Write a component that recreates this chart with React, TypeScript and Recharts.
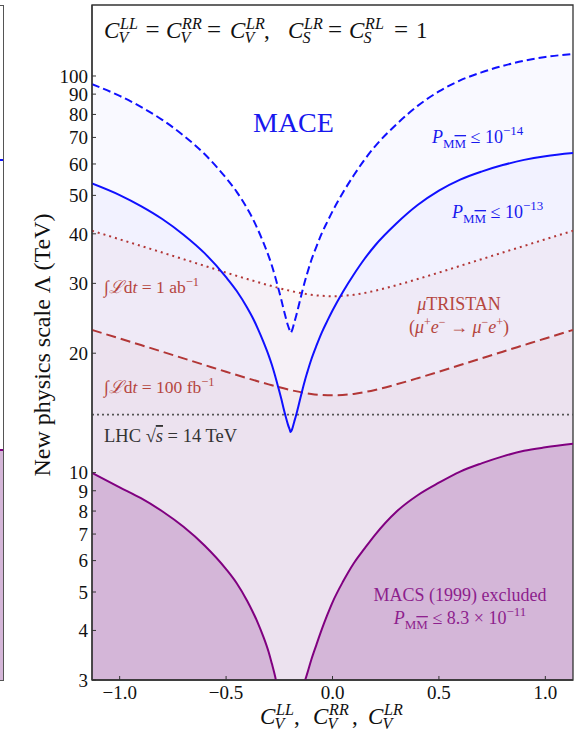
import React from "react";
import {
  ComposedChart,
  Line,
  Area,
  XAxis,
  YAxis,
  ReferenceLine,
  ReferenceArea,
} from "recharts";

const W = 582;
const H = 738;
const SERIF = "'Liberation Serif', 'Times New Roman', serif";

// ---- data ----
const couplingC = [
  -1.13, -1.0, -0.9, -0.8, -0.7, -0.6, -0.5, -0.45, -0.4, -0.375, -0.35, -0.325,
  -0.3, -0.285, -0.27, -0.255, -0.24, -0.23, -0.22, -0.21, -0.2, -0.197, -0.19,
  -0.18, -0.17, -0.16, -0.15, -0.14, -0.13, -0.12, -0.1, -0.075, -0.05, -0.025,
  0, 0.05, 0.1, 0.15, 0.2, 0.3, 0.4, 0.5, 0.6, 0.7, 0.8, 0.9, 1.0, 1.13,
];
// MACE, P <= 1e-13 (solid)
const mace13 = [
  53.6, 50.1, 47.0, 43.6, 39.8, 35.7, 31.1, 28.7, 26.0, 24.58, 23.01, 21.4,
  19.76, 18.71, 17.58, 16.42, 15.3, 14.53, 13.85, 13.25, 12.79, 12.65, 12.85,
  13.42, 14.02, 14.73, 15.48, 16.28, 17.05, 17.79, 19.26, 20.92, 22.57, 24.09,
  25.63, 28.63, 31.59, 34.56, 37.38, 42.46, 47.27, 51.41, 54.81, 57.41, 59.62,
  61.45, 62.78, 63.92,
];
// MACE, P <= 1e-14 (dashed)
const mace14 = [
  95.32, 89.09, 83.58, 77.53, 70.78, 63.48, 55.3, 51.04, 46.24, 43.71, 40.92,
  38.06, 35.14, 33.27, 31.26, 29.2, 27.21, 25.84, 24.63, 23.56, 22.74, 22.5,
  22.85, 23.86, 24.93, 26.19, 27.53, 28.95, 30.32, 31.64, 34.25, 37.2, 40.14,
  42.84, 45.58, 50.91, 56.18, 61.46, 66.47, 75.51, 84.06, 91.42, 97.47, 102.09,
  106.02, 109.28, 111.64, 113.67,
];
// MACS (1999) excluded, P <= 8.3e-11
const macs = [
  9.99, 9.18, 8.62, 7.99, 7.3, 6.54, 5.71, 5.26, 4.74, 4.46, 4.17, 3.86, 3.53,
  3.3, 3.07, 2.8, 2.62, 2.52, 2.44, 2.39, 2.36, 2.355, 2.37, 2.43, 2.52, 2.63,
  2.76, 2.87, 2.98, 3.1, 3.37, 3.69, 4.03, 4.37, 4.71, 5.32, 5.91, 6.43, 6.97,
  7.97, 8.77, 9.43, 10.06, 10.55, 10.99, 11.35, 11.58, 11.82,
];
// muTRISTAN
const tristanC = [
  -1.13, -1.0, -0.9, -0.8, -0.7, -0.6, -0.5, -0.4, -0.3, -0.2, -0.1, 0, 0.1,
  0.2, 0.3, 0.4, 0.5, 0.6, 0.7, 0.8, 0.9, 1.0, 1.13,
];
const tristan1ab = [
  40.71, 38.75, 37.29, 35.89, 34.52, 33.21, 31.94, 30.76, 29.68, 28.74, 28.08,
  27.85, 28.08, 28.74, 29.68, 30.76, 31.94, 33.21, 34.52, 35.89, 37.29, 38.75,
  40.71,
];
const tristan100fb = [
  22.89, 21.79, 20.97, 20.18, 19.41, 18.67, 17.96, 17.3, 16.69, 16.16, 15.79,
  15.66, 15.79, 16.16, 16.69, 17.3, 17.96, 18.67, 19.41, 20.18, 20.97, 21.79,
  22.89,
];
const lhcLimit = 14;

const xTicks = [-1, -0.5, 0, 0.5, 1];
const yTicks = [3, 4, 5, 6, 7, 8, 9, 10, 20, 30, 40, 50, 60, 70, 80, 90, 100];
const xDomain: [number, number] = [-1.13, 1.13];
const yDomain: [number, number] = [3, 151];

const rows = couplingC.map((c, i) => {
  const j = tristanC.indexOf(c);
  return {
    c,
    mace13: mace13[i],
    mace14: mace14[i],
    macs: macs[i],
    t1ab: j >= 0 ? tristan1ab[j] : null,
    t100fb: j >= 0 ? tristan100fb[j] : null,
  };
});

const fmtX = (v: number) =>
  v === 0 ? "0.0" : (v < 0 ? "\u2212" : "") + Math.abs(v).toFixed(1);

const BLUE = "#1010ff";
const BLUE_TXT = "#1818ee";
const RED = "#b23636";
const RED_TXT = "#b5463e";
const PURPLE = "#800080";
const PURPLE_TXT = "#8d1e8d";

function MathC({
  x,
  y,
  size,
  sup,
  sub,
}: {
  x: number;
  y: number;
  size: number;
  sup: string;
  sub: string;
}) {
  const s = size * 0.7;
  return (
    <g fontFamily={SERIF} fill="#111">
      <text x={x} y={y} fontSize={size} fontStyle="italic">
        C
      </text>
      <text x={x + size * 0.7} y={y - size * 0.4} fontSize={s} fontStyle="italic">
        {sup}
      </text>
      <text x={x + size * 0.63} y={y + size * 0.23} fontSize={s} fontStyle="italic">
        {sub}
      </text>
    </g>
  );
}

function Eq({ x, y, size }: { x: number; y: number; size: number }) {
  return (
    <text x={x} y={y} fontSize={size} textAnchor="middle" fontFamily={SERIF} fill="#111">
      =
    </text>
  );
}

function PLabel({
  x,
  y,
  size,
  color,
  rhs,
  exp,
  anchor,
}: {
  x: number;
  y: number;
  size: number;
  color: string;
  rhs: string;
  exp: string;
  anchor?: string;
}) {
  const s = size * 0.72;
  return (
    <text x={x} y={y} fontSize={size} fill={color} fontFamily={SERIF} textAnchor={anchor || "start"}>
      <tspan fontStyle="italic">P</tspan>
      <tspan fontSize={s} dy={size * 0.28}>
        M
      </tspan>
      <tspan fontSize={s} style={{ textDecoration: "overline" }}>
        M
      </tspan>
      <tspan dy={-size * 0.28}>{" \u2264 " + rhs}</tspan>
      <tspan fontSize={s} dy={-size * 0.42}>
        {exp}
      </tspan>
    </text>
  );
}

function Overlay() {
  return (
    <svg
      width={W}
      height={H}
      style={{ position: "absolute", left: 0, top: 0, pointerEvents: "none" }}
    >
      {/* title */}
      <MathC x={104} y={38} size={23} sup="LL" sub="V" />
      <Eq x={152.5} y={38} size={25} />
      <MathC x={166} y={38} size={23} sup="RR" sub="V" />
      <Eq x={214} y={38} size={25} />
      <MathC x={230} y={38} size={23} sup="LR" sub="V" />
      <text x={264} y={38} fontSize={23} fontFamily={SERIF} fill="#111">
        ,
      </text>
      <MathC x={288} y={38} size={23} sup="LR" sub="S" />
      <Eq x={335} y={38} size={25} />
      <MathC x={349} y={38} size={23} sup="RL" sub="S" />
      <Eq x={401} y={38} size={25} />
      <text x={416} y={38} fontSize={23} fontFamily={SERIF} fill="#111">
        1
      </text>

      {/* x axis label */}
      <MathC x={260} y={724} size={23} sup="LL" sub="V" />
      <text x={294} y={724} fontSize={23} fontFamily={SERIF} fill="#111">
        ,
      </text>
      <MathC x={313} y={724} size={23} sup="RR" sub="V" />
      <text x={352} y={724} fontSize={23} fontFamily={SERIF} fill="#111">
        ,
      </text>
      <MathC x={368} y={724} size={23} sup="LR" sub="V" />

      {/* y axis label */}
      <text
        transform="translate(50,345) rotate(-90)"
        textAnchor="middle"
        fontSize={24}
        fontFamily={SERIF}
        fill="#111"
      >
        New physics scale {"\u039B"} (TeV)
      </text>

      {/* MACE */}
      <text x={253} y={132} fontSize={28} fontFamily={SERIF} fill={BLUE_TXT}>
        MACE
      </text>
      <PLabel x={432} y={143} size={18} color={BLUE_TXT} rhs="10" exp={"\u221214"} />
      <PLabel x={452} y={218} size={18} color={BLUE_TXT} rhs="10" exp={"\u221213"} />

      {/* muTRISTAN luminosity labels */}
      <text x={104} y={293} fontSize={17.5} fontFamily={SERIF} fill={RED_TXT}>
        <tspan>{"\u222B"}</tspan>
        <tspan fontStyle="italic">{"\u2112"}</tspan>
        <tspan>d</tspan>
        <tspan fontStyle="italic">t</tspan>
        <tspan>{" = 1 ab"}</tspan>
        <tspan fontSize={12.5} dy={-7}>
          {"\u22121"}
        </tspan>
      </text>
      <text x={104} y={393} fontSize={17.5} fontFamily={SERIF} fill={RED_TXT}>
        <tspan>{"\u222B"}</tspan>
        <tspan fontStyle="italic">{"\u2112"}</tspan>
        <tspan>d</tspan>
        <tspan fontStyle="italic">t</tspan>
        <tspan>{" = 100 fb"}</tspan>
        <tspan fontSize={12.5} dy={-7}>
          {"\u22121"}
        </tspan>
      </text>
      <text x={459} y={310} fontSize={18} fontFamily={SERIF} fill={RED_TXT} textAnchor="middle">
        <tspan fontStyle="italic">{"\u03BC"}</tspan>
        <tspan>TRISTAN</tspan>
      </text>
      <text x={459} y={333} fontSize={18} fontFamily={SERIF} fill={RED_TXT} textAnchor="middle">
        <tspan>(</tspan>
        <tspan fontStyle="italic">{"\u03BC"}</tspan>
        <tspan fontSize={12} dy={-7}>+</tspan>
        <tspan fontStyle="italic" dy={7}>e</tspan>
        <tspan fontSize={12} dy={-7}>{"\u2212"}</tspan>
        <tspan dy={7}>{" \u2192 "}</tspan>
        <tspan fontStyle="italic">{"\u03BC"}</tspan>
        <tspan fontSize={12} dy={-7}>{"\u2212"}</tspan>
        <tspan fontStyle="italic" dy={7}>e</tspan>
        <tspan fontSize={12} dy={-7}>+</tspan>
        <tspan dy={7}>)</tspan>
      </text>

      {/* LHC */}
      <text x={104} y={442} fontSize={18.5} fontFamily={SERIF} fill="#333">
        <tspan>{"LHC \u221A"}</tspan>
        <tspan fontStyle="italic" style={{ textDecoration: "overline" }}>
          s
        </tspan>
        <tspan>{" = 14 TeV"}</tspan>
      </text>

      {/* MACS */}
      <text x={460} y={601} fontSize={18} fontFamily={SERIF} fill={PURPLE_TXT} textAnchor="middle">
        MACS (1999) excluded
      </text>
      <PLabel
        x={460}
        y={624}
        size={18}
        color={PURPLE_TXT}
        rhs={"8.3 \u00D7 10"}
        exp={"\u221211"}
        anchor="middle"
      />
    </svg>
  );
}

function LeftFragment() {
  const box = (s: React.CSSProperties) => (
    <div style={{ position: "absolute", ...s }} />
  );
  return (
    <>
      {box({ left: 0, top: 450, width: 3, height: 230, background: "#d4b6d8" })}
      {box({ left: 0, top: 449, width: 3, height: 2, background: PURPLE })}
      {box({ left: 0, top: 159, width: 3, height: 2, background: BLUE })}
      {box({ left: 3, top: 5, width: 1.3, height: 676, background: "#555" })}
      {box({ left: 0, top: 5, width: 4, height: 1.2, background: "#555" })}
      {box({ left: 0, top: 680, width: 4, height: 1.2, background: "#555" })}
    </>
  );
}

export default function App() {
  const tickStyle = { fill: "#111", fontSize: 19, fontFamily: SERIF };
  return (
    <div style={{ position: "absolute", left: 0, top: 0, width: W, height: H, background: "#fff" }}>
      <ComposedChart
        width={W}
        height={H}
        data={rows}
        margin={{ top: 5, right: 9, bottom: 0, left: 0 }}
      >
        <XAxis
          dataKey="c"
          type="number"
          domain={xDomain}
          allowDataOverflow
          ticks={xTicks}
          interval={0}
          tickFormatter={fmtX}
          height={58}
          tickSize={-4}
          tickMargin={10}
          axisLine={{ stroke: "#333", strokeWidth: 1.3 }}
          tickLine={{ stroke: "#333" }}
          tick={tickStyle}
        />
        <YAxis
          type="number"
          scale="log"
          domain={yDomain}
          allowDataOverflow
          ticks={yTicks}
          interval={0}
          width={92}
          tickSize={-4}
          tickMargin={8}
          axisLine={{ stroke: "#333", strokeWidth: 1.3 }}
          tickLine={{ stroke: "#333" }}
          tick={tickStyle}
        />

        {/* shaded regions */}
        <Area dataKey="mace14" type="monotone" baseValue={3} fill="#0000ff" fillOpacity={0.022} stroke="none" isAnimationActive={false} activeDot={false} />
        <Area dataKey="mace13" type="monotone" baseValue={3} fill="#0000ff" fillOpacity={0.028} stroke="none" isAnimationActive={false} activeDot={false} />
        <Area dataKey="t1ab" type="monotone" baseValue={3} connectNulls fill="#b22222" fillOpacity={0.035} stroke="none" isAnimationActive={false} activeDot={false} />
        <Area dataKey="t100fb" type="monotone" baseValue={3} connectNulls fill="#b22222" fillOpacity={0.035} stroke="none" isAnimationActive={false} activeDot={false} />
        <Area dataKey="macs" type="monotone" baseValue={3} fill="#d4b6d8" fillOpacity={1} stroke="none" isAnimationActive={false} activeDot={false} />

        {/* curves */}
        <Line dataKey="t1ab" type="monotone" connectNulls stroke={RED} strokeWidth={2} strokeDasharray="2 4" dot={false} isAnimationActive={false} activeDot={false} />
        <Line dataKey="t100fb" type="monotone" connectNulls stroke={RED} strokeWidth={2} strokeDasharray="10 5" dot={false} isAnimationActive={false} activeDot={false} />
        <ReferenceLine y={lhcLimit} stroke="#555" strokeWidth={1.6} strokeDasharray="2 3" />
        <Line dataKey="mace14" type="monotone" stroke={BLUE} strokeWidth={2} strokeDasharray="8 4" dot={false} isAnimationActive={false} activeDot={false} />
        <Line dataKey="mace13" type="monotone" stroke={BLUE} strokeWidth={2} dot={false} isAnimationActive={false} activeDot={false} />
        <Line dataKey="macs" type="monotone" stroke={PURPLE} strokeWidth={2} dot={false} isAnimationActive={false} activeDot={false} />

        <ReferenceArea
          x1={xDomain[0]}
          x2={xDomain[1]}
          y1={yDomain[0]}
          y2={yDomain[1]}
          fill="none"
          stroke="#333"
          strokeWidth={1.3}
          ifOverflow="visible"
        />
      </ComposedChart>
      <LeftFragment />
      <Overlay />
    </div>
  );
}
